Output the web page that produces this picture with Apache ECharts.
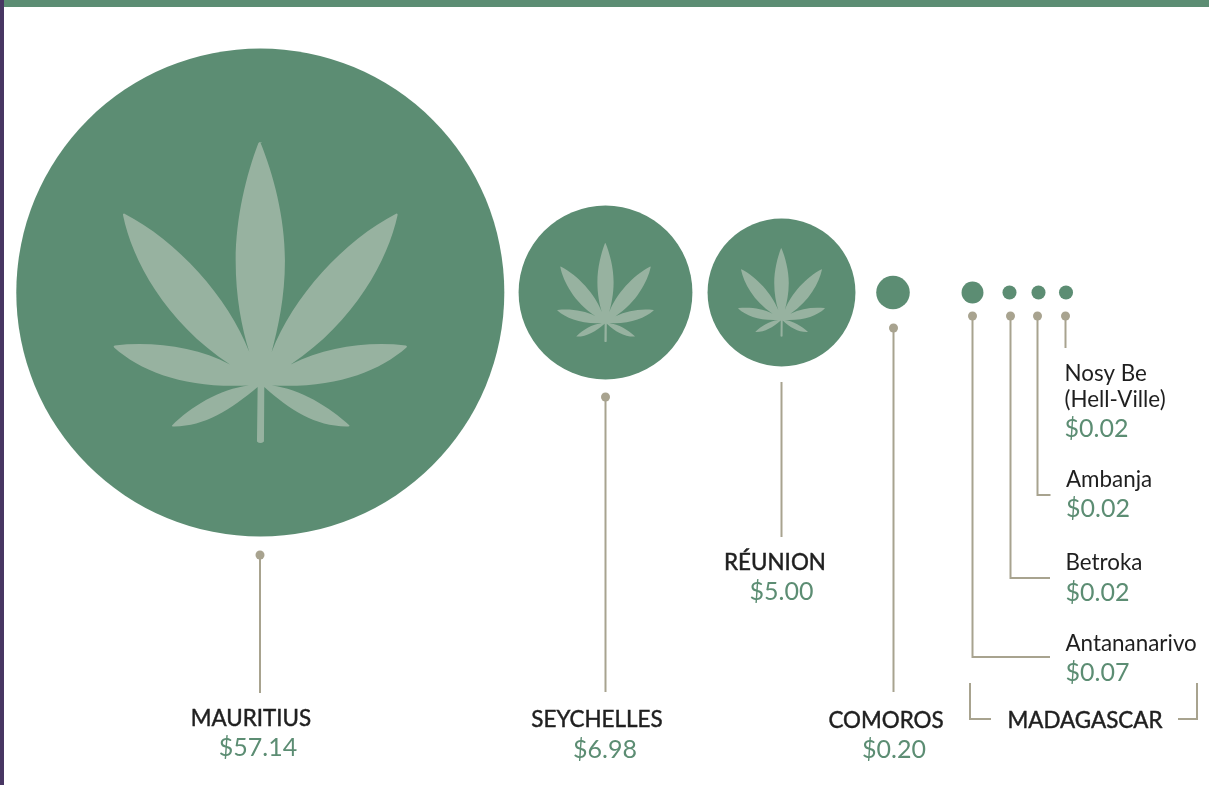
<!DOCTYPE html>
<html>
<head>
<meta charset="utf-8">
<style>html,body{margin:0;padding:0;background:#fff}#chart{width:1209px;height:785px}</style>
<script src="https://cdn.jsdelivr.net/npm/echarts@6/dist/echarts.min.js"></script>
</head>
<body>
<div id="chart"></div>
<script>
// Price per gram by place
const places = ['MAURITIUS', 'SEYCHELLES', 'RÉUNION', 'COMOROS', 'Antananarivo', 'Betroka', 'Ambanja', 'Nosy Be\n(Hell-Ville)'];
const prices = [57.14, 6.98, 5.00, 0.20, 0.07, 0.02, 0.02, 0.02];
const groupName = 'MADAGASCAR';

// Layout, in the page's pixel space
const centreX = [260.3, 605.5, 781.5, 893, 972.5, 1009.5, 1038.5, 1066];
const centreY = 292.5;
const leaders = [
  [[260, 555], [260, 693]],
  [[605.5, 397], [605.5, 692]],
  [[781.5, 382], [781.5, 537]],
  [[893.5, 328], [893.5, 692]],
  [[972.5, 316], [972.5, 657], [1050, 657]],
  [[1010.5, 316], [1010.5, 578], [1050, 578]],
  [[1037.5, 316], [1037.5, 495], [1050.5, 495]],
  [[1065.5, 316], [1065.5, 348]]
];
const brackets = [
  [[970, 683], [970, 719], [991, 719]],
  [[1197, 683], [1197, 719], [1178, 719]]
];
const hasDot = [true, true, false, true, true, true, true, true];
const nameAnchor = [[251, 719], [597, 720], [775, 563], [886, 721], [1065.5, 644], [1065.5, 563], [1066, 480], [1064.5, 374]];
const priceAnchor = [[258, 748], [605, 750], [781.5, 592], [894, 750], [1065.5, 673], [1065.5, 593], [1066, 509], [1064.5, 429]];
const groupAnchor = [1085, 721];
const leafShare = [0.617, 0.57, 0.6];

const GREEN = '#5c8d73';
const LEAF = '#97b2a0';
const LINE = '#a8a38f';
const INK = '#1f1f1f';
const FONT = 'Lato';
const NAME_SIZE = 22.4;
const PRICE_SIZE = 25;

const bubbleDiameter = v => 63.9 * Math.sqrt(v) + 5;

const leafPath = 'path://M481 35C520 130 555 260 555 390C555 500 535 590 515 665' +
  'C578 500 732 330 890 249Q895 249 893 255C865 385 765 575 572 702' +
  'C680 650 800 632 918 645Q924 647 920 651C835 725 702 775 515 765' +
  'C600 775 690 830 749 885Q749 888 745 888C650 890 570 840 493 770' +
  'L492 933Q481 943 471 933L473 770' +
  'C390 840 310 890 218 888Q214 887 216 885C270 830 360 775 447 765' +
  'C260 775 125 725 42 651Q38 647 44 645C160 632 290 650 390 702' +
  'C195 575 95 385 69 255Q67 249 72 249C230 330 385 500 448 665' +
  'C425 590 407 500 407 390C407 260 440 130 475 38Q481 30 487 38Z';

const bubbleData = prices.map((v, i) => ({ value: [centreX[i], centreY], size: bubbleDiameter(v) }));
const leafData = leafShare.map((s, i) => ({ value: [centreX[i], centreY], size: bubbleDiameter(prices[i]) * s }));
const dotData = leaders.filter((_, i) => hasDot[i]).map(l => l[0]);

const polyline = (points, api) => ({
  type: 'polyline',
  shape: { points: points.map(p => api.coord(p)) },
  style: { stroke: LINE, lineWidth: 2, fill: null }
});

const textEl = (api, at, text, size, colour, heavy, align) => {
  const p = api.coord(at);
  const style = { text, fontFamily: FONT, fontSize: size, fill: colour, align, verticalAlign: 'middle', lineHeight: 26 };
  if (heavy) {
    // A hairline outline gives the capitals their medium weight
    style.stroke = colour;
    style.lineWidth = 0.45;
  }
  return { type: 'text', x: p[0], y: p[1], style };
};

const isRegion = i => i < 4;

const option = {
  animation: false,
  backgroundColor: '#ffffff',
  grid: { left: 0, right: 0, top: 0, bottom: 0 },
  xAxis: { type: 'value', min: 0, max: 1209, show: false },
  yAxis: { type: 'value', min: 0, max: 785, inverse: true, show: false },
  graphic: [
    { type: 'rect', shape: { x: 0, y: 0, width: 1209, height: 7 }, style: { fill: GREEN } },
    { type: 'rect', shape: { x: 0, y: 0, width: 4, height: 785 }, style: { fill: '#483663' } }
  ],
  series: [
    {
      type: 'scatter', silent: true, symbol: 'circle',
      symbolSize: (val, params) => bubbleData[params.dataIndex].size,
      itemStyle: { color: GREEN, opacity: 1 },
      data: bubbleData
    },
    {
      type: 'scatter', silent: true, symbol: leafPath, symbolKeepAspect: false,
      symbolSize: (val, params) => {
        const h = leafData[params.dataIndex].size;
        return [h * 882 / 905, h];
      },
      itemStyle: { color: LEAF, opacity: 1 },
      data: leafData, z: 3
    },
    {
      type: 'custom', silent: true, coordinateSystem: 'cartesian2d',
      data: leaders.concat(brackets).map((_, i) => [i]),
      renderItem: (params, api) => polyline(leaders.concat(brackets)[params.dataIndex], api),
      encode: { x: 0 }, z: 2
    },
    {
      type: 'scatter', silent: true, symbol: 'circle', symbolSize: 9,
      itemStyle: { color: LINE, opacity: 1 },
      data: dotData, z: 3
    },
    {
      type: 'custom', silent: true, coordinateSystem: 'cartesian2d',
      data: places.map((_, i) => [i]),
      encode: { x: 0 }, z: 4,
      renderItem: (params, api) => {
        const i = params.dataIndex;
        const align = isRegion(i) ? 'center' : 'left';
        const lines = places[i].split('\n');
        return {
          type: 'group',
          children: lines.map((line, k) =>
            textEl(api, [nameAnchor[i][0], nameAnchor[i][1] + k * 26], line, NAME_SIZE, INK, isRegion(i), align)
          ).concat(textEl(api, priceAnchor[i], '$' + prices[i].toFixed(2), PRICE_SIZE, GREEN, false, align))
        };
      }
    },
    {
      type: 'custom', silent: true, coordinateSystem: 'cartesian2d',
      data: [[0]], encode: { x: 0 }, z: 4,
      renderItem: (params, api) => textEl(api, groupAnchor, groupName, NAME_SIZE, INK, true, 'center')
    }
  ]
};

const chart = echarts.init(document.getElementById('chart'), null, { renderer: 'canvas' });
chart.setOption(option);
</script>
</body>
</html>
